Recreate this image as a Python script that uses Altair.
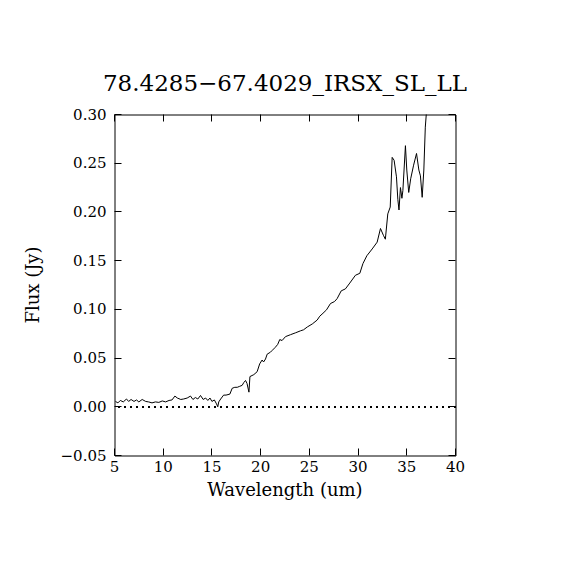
import altair as alt
import pandas as pd

# Wavelength (um) and flux (Jy)
wavelength = [
    5.1, 5.35, 5.6, 5.9, 6.23, 6.45, 6.7, 7.0, 7.26, 7.5, 7.84, 8.2, 8.5, 8.85,
    9.2, 9.55, 9.9, 10.25, 10.6, 10.9, 11.2, 11.45, 11.8, 12.1, 12.46, 12.8,
    13.05, 13.3, 13.55, 13.83, 14.1, 14.35, 14.58, 14.8, 15.0, 15.25, 15.47,
    15.6, 15.7, 15.9, 16.2, 16.45, 16.84, 17.08, 17.35, 17.6, 17.85, 18.1,
    18.28, 18.45, 18.6, 18.8, 18.9, 19.3, 19.64, 19.9, 20.15, 20.3, 20.5,
    20.67, 21.0, 21.2, 21.5, 21.75, 21.96, 22.2, 22.55, 23.06, 23.6, 24.1,
    24.4, 24.8, 25.3, 25.8, 26.07, 26.4, 26.76, 27.17, 27.58, 27.85, 28.27,
    28.7, 29.15, 29.73, 30.18, 30.5, 30.9, 31.45, 31.96, 32.3, 32.6, 32.8,
    33.05, 33.3, 33.5, 33.7, 33.94, 34.08, 34.2, 34.35, 34.5, 34.6, 34.86,
    35.0, 35.2, 35.4, 35.7, 36.0, 36.24, 36.4, 36.58, 36.75, 36.9, 37.03,
]
flux = [
    0.0055, 0.004, 0.0065, 0.005, 0.008, 0.0055, 0.0075, 0.0055, 0.007, 0.005,
    0.0075, 0.0055, 0.005, 0.004, 0.005, 0.0045, 0.006, 0.005, 0.0065, 0.007,
    0.011, 0.009, 0.0075, 0.008, 0.009, 0.011, 0.0075, 0.0095, 0.008, 0.0116,
    0.0075, 0.009, 0.0065, 0.009, 0.0055, 0.007, 0.003, 0.0, 0.005, 0.008,
    0.012, 0.012, 0.013, 0.019, 0.020, 0.020, 0.021, 0.022, 0.025, 0.027,
    0.024, 0.015, 0.031, 0.033, 0.036, 0.044, 0.048, 0.046, 0.049, 0.054,
    0.056, 0.058, 0.061, 0.064, 0.069, 0.068, 0.072, 0.074, 0.076, 0.078,
    0.079, 0.082, 0.085, 0.089, 0.093, 0.096, 0.0995, 0.106, 0.108, 0.111,
    0.119, 0.121, 0.127, 0.135, 0.137, 0.147, 0.155, 0.162, 0.169, 0.183,
    0.176, 0.172, 0.198, 0.205, 0.256, 0.253, 0.236, 0.213, 0.202, 0.225,
    0.214, 0.222, 0.268, 0.243, 0.220, 0.234, 0.248, 0.260, 0.243, 0.237,
    0.215, 0.243, 0.287, 0.304,
]
x_ticks = [5, 10, 15, 20, 25, 30, 35, 40]
y_ticks = [-0.05, 0.0, 0.05, 0.10, 0.15, 0.20, 0.25, 0.30]
x_domain = [5, 40]
y_domain = [-0.05, 0.30]
title_text = "78.4285\u221267.4029_IRSX_SL_LL"

df = pd.DataFrame({"wl": wavelength, "flux": flux})

FONT = "DejaVu Serif"

xs = alt.Scale(domain=x_domain, nice=False, zero=False)
ys = alt.Scale(domain=y_domain, nice=False, zero=False)

common_axis = dict(domain=False, grid=False, tickSize=7, offset=-7,
                   translate=0,
                   tickColor="black", tickWidth=1, labelColor="black",
                   labelFont=FONT, labelFontSize=15, titleFont=FONT,
                   titleFontSize=18, titleFontWeight="normal",
                   titleColor="black", labelFlush=False, labelOverlap=False)

line = alt.Chart(df).mark_line(color="black", strokeWidth=1, clip=True).encode(
    x=alt.X("wl:Q", scale=xs,
            axis=alt.Axis(values=x_ticks, format="d", orient="bottom",
                          title="Wavelength (um)", labelPadding=4,
                          titlePadding=7, **common_axis)),
    y=alt.Y("flux:Q", scale=ys,
            axis=alt.Axis(values=y_ticks, format=".2f", orient="left",
                          title="Flux (Jy)", labelPadding=8,
                          titlePadding=18, **common_axis)),
)

frame_axes = alt.Chart(df).mark_point(opacity=0).encode(
    x=alt.X("wl:Q", scale=xs,
            axis=alt.Axis(values=x_ticks, orient="top", labels=False,
                          title=None, **common_axis)),
    y=alt.Y("flux:Q", scale=ys,
            axis=alt.Axis(values=y_ticks, orient="right", labels=False,
                          title=None, **common_axis)),
)

zero = alt.Chart(df).mark_rule(color="black", strokeWidth=1,
                               strokeDash=[1, 5]).encode(
    y=alt.datum(0.0, scale=ys, axis=None),
)

chart = alt.layer(zero, line, frame_axes).resolve_axis(
    x="independent", y="independent"
).properties(
    width=341, height=341,
    autosize=alt.AutoSizeParams(type="none"),
    padding={"left": 106.5, "top": 106.5, "right": 100, "bottom": 100},
    title=alt.TitleParams(title_text, font=FONT, fontSize=23,
                          fontWeight="normal", color="black",
                          anchor="middle", frame="group",
                          baseline="alphabetic", offset=24, dy=30),
).configure(background="white").configure_view(stroke="black", strokeWidth=1)

chart.save("out.html", embed_options={"renderer": "svg", "actions": False})
